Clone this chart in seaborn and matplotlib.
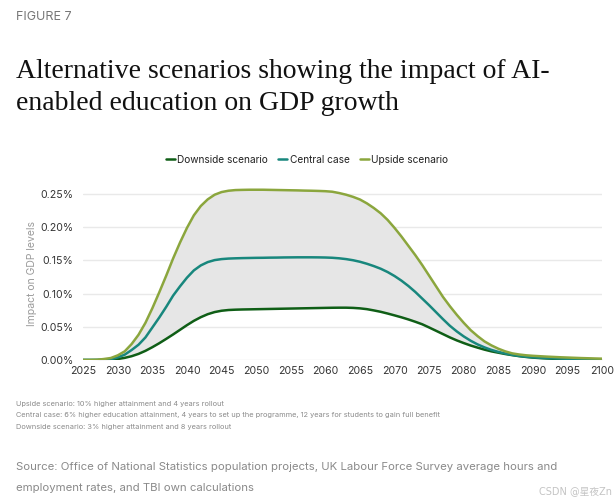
import numpy as np
import pandas as pd
import seaborn as sns
import matplotlib.pyplot as plt
from matplotlib.ticker import FuncFormatter

# Data (impact on GDP levels, %)
years = list(range(2025, 2101))

upside = [
    0.0, 0.0, 0.0003, 0.0015, 0.003, 0.007, 0.013, 0.024, 0.038, 0.056,  # 2025-2034
    0.078, 0.102, 0.127, 0.153, 0.177, 0.199, 0.218, 0.232, 0.242, 0.249,  # 2035-2044
    0.253, 0.255, 0.2560, 0.2563, 0.2565, 0.2565, 0.2565, 0.2563, 0.2561, 0.2559,  # 2045-2054
    0.2557, 0.2555, 0.2552, 0.2550, 0.2547, 0.2543, 0.2535, 0.2515, 0.2490, 0.2458,  # 2055-2064
    0.2418, 0.236, 0.229, 0.221, 0.211, 0.199, 0.186, 0.172, 0.158, 0.143,  # 2065-2074
    0.127, 0.111, 0.095, 0.081, 0.068, 0.056, 0.045, 0.036, 0.028, 0.022,  # 2075-2084
    0.017, 0.013, 0.010, 0.0083, 0.0071, 0.0063, 0.0057, 0.0051, 0.0046, 0.0041,  # 2085-2094
    0.0037, 0.0033, 0.0029, 0.0026, 0.0023, 0.0020,  # 2095-2100
]

central = [
    0.0, 0.0, 0.0001, 0.0005, 0.0012, 0.004, 0.008, 0.015, 0.023, 0.034,
    0.049, 0.064, 0.080, 0.097, 0.111, 0.124, 0.135, 0.1425, 0.1475, 0.1505,
    0.1520, 0.1528, 0.1532, 0.1535, 0.1537, 0.1539, 0.1540, 0.1542, 0.1543, 0.1545,
    0.1546, 0.1547, 0.1547, 0.1547, 0.1546, 0.1544, 0.1540, 0.1532, 0.1520, 0.1503,
    0.1480, 0.1450, 0.1415, 0.1375, 0.1325, 0.1265, 0.1195, 0.1115, 0.1025, 0.0925,
    0.0825, 0.0720, 0.0615, 0.0515, 0.0430, 0.0355, 0.0290, 0.0235, 0.0190, 0.0152,
    0.0122, 0.0097, 0.0077, 0.0061, 0.0049, 0.0040, 0.0033, 0.0028, 0.0024, 0.0021,
    0.0018, 0.0016, 0.0014, 0.0012, 0.0011, 0.0010,
]

downside = [
    0.0, 0.0, 0.0, 0.0002, 0.0006, 0.0015, 0.0032, 0.0057, 0.0092, 0.0138,
    0.0193, 0.0253, 0.0318, 0.0385, 0.0455, 0.0525, 0.0590, 0.0645, 0.0690, 0.0722,
    0.0742, 0.0753, 0.0758, 0.0761, 0.0763, 0.0765, 0.0767, 0.0769, 0.0771, 0.0773,
    0.0775, 0.0777, 0.0779, 0.0781, 0.0783, 0.0785, 0.0787, 0.0788, 0.0788, 0.0785,
    0.0778, 0.0766, 0.0747, 0.0726, 0.0700, 0.0672, 0.0643, 0.0611, 0.0576, 0.0538,
    0.0490, 0.0440, 0.0390, 0.0340, 0.0295, 0.0255, 0.0218, 0.0186, 0.0156, 0.0130,
    0.0110, 0.0090, 0.0073, 0.0058, 0.0046, 0.0036, 0.0029, 0.0023, 0.0018, 0.0015,
    0.0012, 0.0010, 0.0008, 0.0007, 0.0006, 0.0005,
]

series_names = ["Downside scenario", "Central case", "Upside scenario"]
series_colors = ["#0f5e16", "#18877d", "#8ba63d"]
x_ticks = list(range(2025, 2101, 5))
y_ticks = [0.0, 0.05, 0.10, 0.15, 0.20, 0.25]

df = pd.DataFrame({
    "year": years * 3,
    "value": downside + central + upside,
    "scenario": np.repeat(series_names, len(years)),
})

sns.set_theme(style="white")
plt.rcParams["font.family"] = ["Inter", "DejaVu Sans"]

fig = plt.figure(figsize=(6.16, 5.03), dpi=100)
ax = fig.add_axes([0.135, 0.2843, 0.8425, 0.3431])

# grey band between downside and upside
ax.fill_between(years, downside, upside, color="#e6e6e6", linewidth=0, zorder=1)

sns.lineplot(data=df, x="year", y="value", hue="scenario", hue_order=series_names,
             palette=series_colors, linewidth=1.8, ax=ax, legend=False, zorder=3,
             solid_joinstyle="round")

ax.set_xlim(2025, 2100)
ax.set_ylim(0, 0.26)
ax.set_xticks(x_ticks)
ax.set_yticks(y_ticks)
ax.yaxis.set_major_formatter(FuncFormatter(lambda v, p: f"{v:.2f}%"))
ax.grid(axis="y", color="#e9e9e9", linewidth=1, zorder=0)
ax.set_axisbelow(True)
for s in ax.spines.values():
    s.set_visible(False)
ax.tick_params(axis="both", length=0, labelsize=7.6, colors="#333333")
ax.tick_params(axis="y", pad=7)
ax.tick_params(axis="x", pad=4)
ax.set_xlabel("")
ax.set_ylabel("Impact on GDP levels", fontsize=7.5, color="#9a9a9a", labelpad=2)

# legend
handles = [plt.Line2D([], [], color=c, linewidth=1.8) for c in series_colors]
fig.legend(handles, series_names, loc="center", bbox_to_anchor=(307 / 616, 1 - 160 / 503),
           ncol=3, frameon=False, fontsize=7.3, handlelength=0.9, handletextpad=0.25,
           columnspacing=1.0, labelcolor="#222222")

# header text
fig.text(16 / 616, 1 - 17 / 503, "FIGURE 7", fontsize=9, color="#777777", va="center")
fig.text(16 / 616, 1 - 71 / 503, "Alternative scenarios showing the impact of AI-",
         family="Liberation Serif", fontsize=20, color="#111111", va="center")
fig.text(16 / 616, 1 - 104 / 503, "enabled education on GDP growth",
         family="Liberation Serif", fontsize=20, color="#111111", va="center")

# footnotes
notes = [
    "Upside scenario: 10% higher attainment and 4 years rollout",
    "Central case: 6% higher education attainment, 4 years to set up the programme, 12 years for students to gain full benefit",
    "Downside scenario: 3% higher attainment and 8 years rollout",
]
for i, n in enumerate(notes):
    fig.text(16 / 616, 1 - (404 + i * 11.5) / 503, n, fontsize=5.3, color="#8a8a8a", va="center")

fig.text(16 / 616, 1 - 467 / 503,
         "Source: Office of National Statistics population projects, UK Labour Force Survey average hours and",
         fontsize=8.2, color="#8a8a8a", va="center")
fig.text(16 / 616, 1 - 488 / 503, "employment rates, and TBI own calculations",
         fontsize=8.2, color="#8a8a8a", va="center")

# watermark
fig.text(612 / 616, 1 - 492 / 503, "CSDN @星夜Zn", fontsize=7, color="#c4c4c4",
         va="center", ha="right", family=["DejaVu Sans", "Noto Sans CJK SC"])

fig.savefig("out.png", dpi=100)
